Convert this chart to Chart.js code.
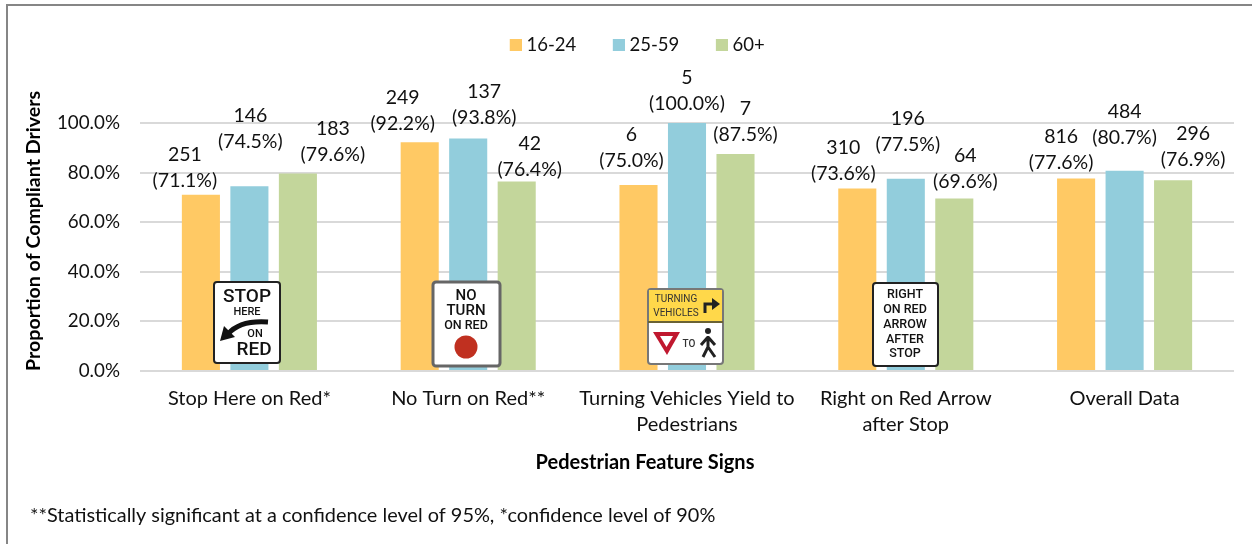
<!DOCTYPE html>
<html>
<head>
<meta charset="utf-8">
<title>Proportion of Compliant Drivers</title>
<script src="https://cdn.jsdelivr.net/npm/chart.js@4"></script>
<style>
    html, body { margin: 0; padding: 0; background: #fff; }
    canvas { display: block; }
</style>
</head>
<body>
<canvas id="grafico" width="1252" height="544"></canvas>
<script>
var categories = ['Stop Here on Red*', 'No Turn on Red**', ['Turning Vehicles Yield to', 'Pedestrians'], ['Right on Red Arrow', 'after Stop'], 'Overall Data'];
var groups = ['16-24', '25-59', '60+'];
var values16 = [71.1, 92.2, 75.0, 73.6, 77.6];
var values25 = [74.5, 93.8, 100.0, 77.5, 80.7];
var values60 = [79.6, 76.4, 87.5, 69.6, 76.9];
var counts16 = [251, 249, 6, 310, 816];
var counts25 = [146, 137, 5, 196, 484];
var counts60 = [183, 42, 7, 64, 296];
var axisTicks = [0, 20, 40, 60, 80, 100];

var allValues = [values16, values25, values60];
var allCounts = [counts16, counts25, counts60];
var colors = ['#FFC964', '#92CDDC', '#C3D69B'];

// label position relative to the top of its bar: [dx, dy] per group, per category
var labelShift = [
    [[-16, -40], [-17, -45], [-7, -50], [-14, -41], [-15, -42]],
    [[1, -71], [16, -47], [0, -45], [2, -60], [0, -59]],
    [[35, -45], [13, -38], [10, -45], [11, -43], [20, -47]]
];

var fonte = 'Lato, sans-serif';
var sinal = 'Roboto, sans-serif';

function texto(ctx, t, x, y, font, color) {
    ctx.font = font;
    ctx.fillStyle = color || '#111';
    ctx.textAlign = 'center';
    ctx.textBaseline = 'middle';
    ctx.fillText(t, x, y);
}

function placa(ctx, x1, y1, x2, y2, border, w) {
    ctx.beginPath();
    ctx.roundRect(x1, y1, x2 - x1, y2 - y1, 3);
    ctx.fillStyle = '#fff';
    ctx.fill();
    ctx.lineWidth = w;
    ctx.strokeStyle = border;
    ctx.stroke();
}

// legend swatch: blank on the left so the square sits close to its text
function amostra(cor) {
    var c = document.createElement('canvas');
    c.width = 21;
    c.height = 12;
    var g = c.getContext('2d');
    g.fillStyle = cor;
    g.fillRect(9, 0, 12, 12);
    return c;
}

function desenhaPlacas(ctx) {
    // Stop here on red
    placa(ctx, 214, 282, 280, 363, '#222', 2);
    texto(ctx, 'STOP', 247, 297, '500 19px ' + sinal);
    texto(ctx, 'HERE', 247, 312, '500 11px ' + sinal);
    ctx.beginPath();
    ctx.moveTo(268, 322);
    ctx.quadraticCurveTo(240, 320, 228, 334);
    ctx.strokeStyle = '#111';
    ctx.lineWidth = 5;
    ctx.stroke();
    ctx.beginPath();
    ctx.moveTo(220, 341);
    ctx.lineTo(224, 326);
    ctx.lineTo(235, 337);
    ctx.closePath();
    ctx.fillStyle = '#111';
    ctx.fill();
    texto(ctx, 'ON', 255, 334, '500 11px ' + sinal);
    texto(ctx, 'RED', 254, 350, '500 19px ' + sinal);

    // No turn on red
    placa(ctx, 433, 282, 500, 366, '#666', 3);
    texto(ctx, 'NO', 466, 296, '500 15px ' + sinal);
    texto(ctx, 'TURN', 466, 311, '500 15px ' + sinal);
    texto(ctx, 'ON RED', 466, 326, '500 12.5px ' + sinal);
    ctx.beginPath();
    ctx.arc(466, 347, 11.5, 0, Math.PI * 2);
    ctx.fillStyle = '#C03020';
    ctx.fill();

    // Turning vehicles yield to pedestrians
    placa(ctx, 648, 289, 723, 364, '#777', 2);
    ctx.fillStyle = '#FFD84A';
    ctx.fillRect(649, 290, 73, 32);
    ctx.fillStyle = '#6a6234';
    ctx.fillRect(648, 321, 75, 2);
    texto(ctx, 'TURNING', 676, 299, '400 10px ' + sinal, '#333');
    texto(ctx, 'VEHICLES', 676, 313, '400 10px ' + sinal, '#333');
    ctx.beginPath();
    ctx.moveTo(705, 313);
    ctx.lineTo(705, 304);
    ctx.lineTo(714, 304);
    ctx.strokeStyle = '#222';
    ctx.lineWidth = 3;
    ctx.stroke();
    ctx.beginPath();
    ctx.moveTo(720, 304);
    ctx.lineTo(712, 298);
    ctx.lineTo(712, 310);
    ctx.closePath();
    ctx.fillStyle = '#222';
    ctx.fill();
    ctx.beginPath();
    ctx.moveTo(653, 332);
    ctx.lineTo(680, 332);
    ctx.lineTo(667, 355);
    ctx.closePath();
    ctx.fillStyle = '#C0182F';
    ctx.fill();
    ctx.beginPath();
    ctx.moveTo(660, 336);
    ctx.lineTo(673, 336);
    ctx.lineTo(666.5, 347);
    ctx.closePath();
    ctx.fillStyle = '#fff';
    ctx.fill();
    texto(ctx, 'TO', 689, 344, '500 10px ' + sinal, '#333');
    ctx.beginPath();
    ctx.arc(708, 331, 3, 0, Math.PI * 2);
    ctx.fillStyle = '#222';
    ctx.fill();
    ctx.beginPath();
    ctx.moveTo(708, 336);
    ctx.lineTo(708, 347);
    ctx.lineTo(703, 357);
    ctx.moveTo(708, 347);
    ctx.lineTo(715, 357);
    ctx.moveTo(708, 337);
    ctx.lineTo(701, 345);
    ctx.moveTo(708, 337);
    ctx.lineTo(715, 345);
    ctx.strokeStyle = '#222';
    ctx.lineWidth = 3;
    ctx.stroke();

    // Right on red arrow after stop
    placa(ctx, 873, 283, 938, 366, '#222', 2);
    var linhas = ['RIGHT', 'ON RED', 'ARROW', 'AFTER', 'STOP'];
    for (var i = 0; i < linhas.length; i++) {
        texto(ctx, linhas[i], 905, 295 + i * 14.8, '500 12.5px ' + sinal);
    }
}

var extras = {
    id: 'extras',
    beforeInit: function (chart) {
        // room between the legend and the plot
        var fit = chart.legend.fit;
        chart.legend.fit = function () {
            fit.call(chart.legend);
            this.height = 119;
        };
    },
    afterLayout: function (chart) {
        chart.legend.left += 8;
        chart.legend.right += 8;
    },
    beforeDraw: function (chart) {
        var ctx = chart.ctx;
        ctx.fillStyle = '#868686';
        ctx.fillRect(6, 4, 1246, 2);
        ctx.fillRect(6, 4, 2, 540);
    },
    afterDatasetsDraw: function (chart) {
        var ctx = chart.ctx;
        desenhaPlacas(ctx);

        for (var d = 0; d < allValues.length; d++) {
            var barras = chart.getDatasetMeta(d).data;
            for (var i = 0; i < barras.length; i++) {
                var x = barras[i].x + labelShift[d][i][0];
                var y = barras[i].y + labelShift[d][i][1];
                texto(ctx, String(allCounts[d][i]), x, y, '19.5px ' + fonte);
                texto(ctx, '(' + allValues[d][i].toFixed(1) + '%)', x, y + 26, '19.5px ' + fonte);
            }
        }

        texto(ctx, 'Pedestrian Feature Signs', 645, 463, 'bold 20px ' + fonte, '#000');
        ctx.textAlign = 'left';
        ctx.font = '19.9px ' + fonte;
        ctx.fillStyle = '#111';
        ctx.fillText('**Statistically significant at a confidence level of 95%, *confidence level of 90%', 30, 516);
    }
};

var datasets = [];
for (var d = 0; d < groups.length; d++) {
    datasets.push({
        label: groups[d],
        data: allValues[d],
        backgroundColor: colors[d],
        borderWidth: 0,
        categoryPercentage: 0.665,
        barPercentage: 0.785
    });
}

new Chart(document.getElementById('grafico').getContext('2d'), {
    type: 'bar',
    data: { labels: categories, datasets: datasets },
    plugins: [extras],
    options: {
        responsive: false,
        animation: false,
        layout: { padding: { left: 20, right: 18, top: 4, bottom: 0 } },
        plugins: {
            tooltip: { enabled: false },
            legend: {
                position: 'top',
                labels: {
                    usePointStyle: true,
                    boxWidth: 12,
                    boxHeight: 12,
                    padding: 32,
                    color: '#111',
                    font: { family: fonte, size: 18.5 },
                    generateLabels: function (chart) {
                        var itens = Chart.defaults.plugins.legend.labels.generateLabels(chart);
                        for (var i = 0; i < itens.length; i++) {
                            itens[i].pointStyle = amostra(colors[i]);
                        }
                        return itens;
                    }
                }
            }
        },
        scales: {
            x: {
                afterFit: function (scale) { scale.height = 173; },
                grid: { display: false },
                border: { display: false },
                ticks: {
                    color: '#111',
                    padding: 7,
                    maxRotation: 0,
                    autoSkip: false,
                    font: { family: fonte, size: 20, lineHeight: 1.3 }
                }
            },
            y: {
                min: 0,
                max: 100,
                afterFit: function (scale) { scale.width = 120; },
                afterBuildTicks: function (scale) {
                    scale.ticks = axisTicks.map(function (v) { return { value: v }; });
                },
                grid: { color: '#D9D9D9', lineWidth: 2, drawTicks: false },
                border: { display: false },
                title: {
                    display: true,
                    text: 'Proportion of Compliant Drivers',
                    align: 'start',
                    color: '#000',
                    font: { family: fonte, size: 19.6, weight: 'bold', lineHeight: 1 }
                },
                ticks: {
                    color: '#111',
                    padding: 20,
                    font: { family: fonte, size: 18.8 },
                    callback: function (v) { return v.toFixed(1) + '%'; }
                }
            }
        }
    }
});
</script>
</body>
</html>
